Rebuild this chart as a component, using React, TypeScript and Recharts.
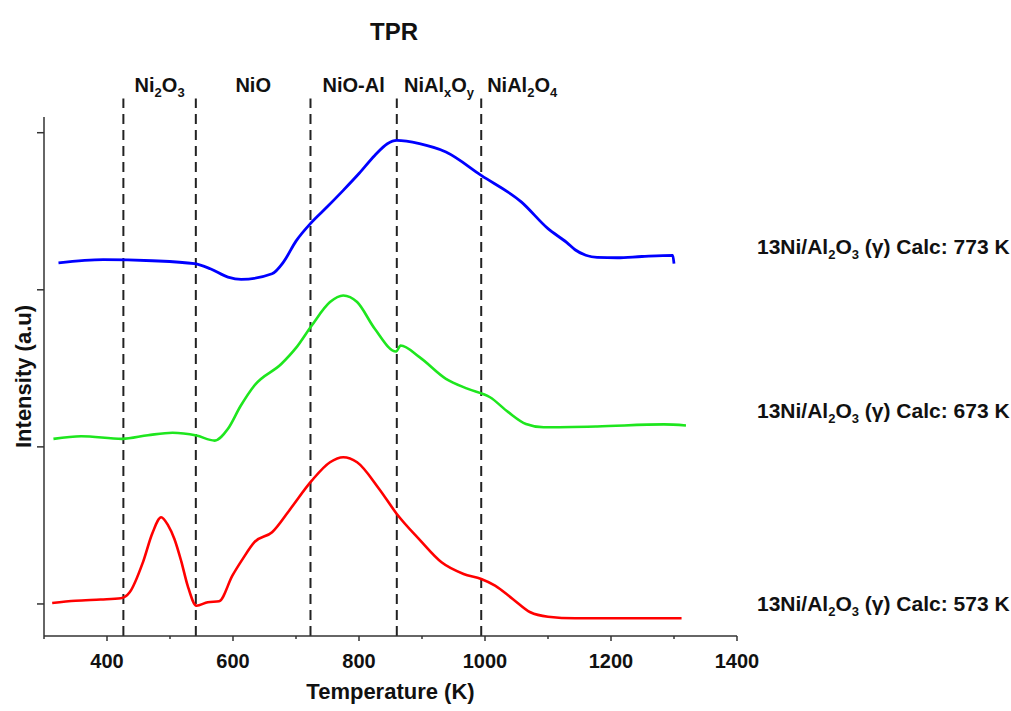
import { LineChart, Line, XAxis, YAxis, ReferenceLine, ReferenceArea } from "recharts";

// temperature (K) / intensity (a.u., stacked) per calcination sample
const redTemp = [313, 350, 390, 422, 436, 457, 472, 486, 497, 507, 518, 528, 542, 560, 578, 599, 616, 634, 662, 691, 725, 754, 775, 797, 832, 860, 895, 931, 966, 994, 1016, 1044, 1072, 1100, 1143, 1213, 1312];
const redIntensity = [0.006, 0.02, 0.028, 0.036, 0.074, 0.265, 0.45, 0.552, 0.5, 0.414, 0.27, 0.117, -0.011, 0.011, 0.017, 0.18, 0.29, 0.393, 0.457, 0.605, 0.785, 0.902, 0.934, 0.902, 0.732, 0.573, 0.414, 0.265, 0.191, 0.159, 0.117, 0.032, -0.053, -0.081, -0.091, -0.091, -0.091];

const greenTemp = [315, 359, 424, 465, 504, 542, 571, 592, 612, 634, 677, 700, 725, 754, 775, 797, 825, 859, 866, 896, 938, 973, 1008, 1037, 1065, 1093, 1178, 1284, 1319];
const greenIntensity = [1.051, 1.068, 1.051, 1.074, 1.09, 1.072, 1.04, 1.115, 1.26, 1.391, 1.529, 1.63, 1.773, 1.922, 1.964, 1.922, 1.752, 1.607, 1.645, 1.571, 1.433, 1.369, 1.316, 1.221, 1.146, 1.125, 1.13, 1.143, 1.136];

const blueTemp = [323, 394, 472, 539, 564, 592, 613, 662, 680, 700, 725, 750, 775, 800, 825, 845, 860, 896, 938, 994, 1058, 1100, 1130, 1143, 1160, 1178, 1210, 1249, 1298, 1300];
const blueIntensity = [2.172, 2.192, 2.185, 2.166, 2.134, 2.081, 2.066, 2.102, 2.176, 2.31, 2.431, 2.53, 2.633, 2.74, 2.855, 2.93, 2.951, 2.93, 2.877, 2.728, 2.558, 2.389, 2.3, 2.255, 2.22, 2.206, 2.204, 2.212, 2.219, 2.166];

const xTicks = [300, 400, 500, 600, 700, 800, 900, 1000, 1100, 1200, 1300, 1400];
const xLabelTicks = [400, 600, 800, 1000, 1200, 1400];
const yTicks = [0, 1, 2, 3];

const dividerTemps = [426, 541, 723, 860, 994];
const phaseBounds = [426, 541, 723, 860, 994, 1124];
const phaseNames = ["Ni_2O_3", "NiO", "NiO-Al", "NiAl_xO_y", "NiAl_2O_4"];
const seriesNames = [
  "13Ni/Al_2O_3 (γ) Calc: 773 K",
  "13Ni/Al_2O_3 (γ) Calc: 673 K",
  "13Ni/Al_2O_3 (γ) Calc: 573 K",
];

const Y_MIN = -0.204;
const Y_MAX = 3.1;
const DIVIDER_TOP = 3.217;
const FONT = "'Liberation Sans', Arial, sans-serif";

const toPoints = (t: number[], v: number[]) => t.map((temp, i) => ({ temp, v: v[i] }));
const redData = toPoints(redTemp, redIntensity);
const greenData = toPoints(greenTemp, greenIntensity);
const blueData = toPoints(blueTemp, blueIntensity);

// "Ni_2O_3" -> [["Ni", false], ["2", true], ["O", false], ["3", true]]
function splitSub(s: string): [string, boolean][] {
  const out: [string, boolean][] = [];
  let buf = "";
  for (let i = 0; i < s.length; i++) {
    if (s[i] === "_" && i + 1 < s.length) {
      if (buf) out.push([buf, false]);
      buf = "";
      out.push([s[i + 1], true]);
      i++;
    } else {
      buf += s[i];
    }
  }
  if (buf) out.push([buf, false]);
  return out;
}

function SvgSubText({ text, x, y, size, subSize }: any) {
  const parts = splitSub(text);
  let shifted = false;
  return (
    <text x={x} y={y} textAnchor="middle" fontFamily={FONT} fontWeight="bold" fontSize={size} fill="#111">
      {parts.map(([p, sub], i) => {
        let dy = 0;
        if (sub && !shifted) { dy = 5; shifted = true; }
        if (!sub && shifted) { dy = -5; shifted = false; }
        return (
          <tspan key={i} dy={dy} fontSize={sub ? subSize : size}>
            {p}
          </tspan>
        );
      })}
    </text>
  );
}

function HtmlSubText({ text }: { text: string }) {
  return (
    <>
      {splitSub(text).map(([p, sub], i) =>
        sub ? (
          <span key={i} style={{ fontSize: 13, position: "relative", top: 5 }}>{p}</span>
        ) : (
          <span key={i}>{p}</span>
        )
      )}
    </>
  );
}

function XTick({ x, y, payload }: any) {
  const major = xLabelTicks.includes(payload.value);
  return (
    <g>
      <line x1={x} x2={x} y1={y} y2={y + (major ? 5 : 3)} stroke="#333" strokeWidth={1.5} />
      {major && (
        <text x={x} y={y + 32} textAnchor="middle" fontFamily={FONT} fontWeight="bold" fontSize={20} fill="#111">
          {payload.value}
        </text>
      )}
    </g>
  );
}

function YTitle({ viewBox }: any) {
  const cx = 23;
  const cy = viewBox.y + viewBox.height / 2;
  return (
    <text
      x={cx}
      y={cy}
      transform={`rotate(-90, ${cx}, ${cy})`}
      textAnchor="middle"
      dominantBaseline="central"
      fontFamily={FONT}
      fontWeight="bold"
      fontSize={22}
      fill="#111"
    >
      Intensity (a.u)
    </text>
  );
}

const labelBaselines = [254, 418, 611];

export default function App() {
  return (
    <div style={{ position: "absolute", left: 0, top: 0, width: 1011, height: 711, background: "#fff", fontFamily: FONT }}>
      <LineChart width={1011} height={711} margin={{ top: 117, right: 274, bottom: 0, left: 0 }}>
        <XAxis
          xAxisId="t"
          type="number"
          dataKey="temp"
          domain={[300, 1400]}
          ticks={xTicks}
          allowDataOverflow
          height={75}
          tickSize={0}
          tickMargin={0}
          tickLine={false}
          tick={<XTick />}
          axisLine={{ stroke: "#333", strokeWidth: 1.5 }}
          label={{ value: "Temperature (K)", position: "insideBottom", offset: 12, fontFamily: FONT, fontWeight: "bold", fontSize: 22, fill: "#111" }}
        />
        <YAxis
          yAxisId="v"
          type="number"
          domain={[Y_MIN, Y_MAX]}
          ticks={yTicks}
          allowDataOverflow
          width={44}
          tickSize={7}
          tickFormatter={() => ""}
          tickLine={{ stroke: "#333", strokeWidth: 1.5 }}
          axisLine={{ stroke: "#333", strokeWidth: 1.5 }}
          label={(props: any) => <YTitle {...props} />}
        />
        {dividerTemps.map((t) => (
          <ReferenceLine
            key={t}
            xAxisId="t"
            yAxisId="v"
            segment={[{ x: t, y: Y_MIN }, { x: t, y: DIVIDER_TOP }]}
            ifOverflow="visible"
            stroke="#222"
            strokeWidth={2}
            strokeDasharray="10 6"
          />
        ))}
        {phaseNames.map((name, i) => (
          <ReferenceArea
            key={name}
            xAxisId="t"
            yAxisId="v"
            x1={phaseBounds[i]}
            x2={phaseBounds[i + 1]}
            y1={DIVIDER_TOP}
            y2={3.35}
            ifOverflow="visible"
            fill="none"
            stroke="none"
            label={(props: any) => (
              <SvgSubText text={name} x={props.viewBox.x + props.viewBox.width / 2} y={92} size={20} subSize={13} />
            )}
          />
        ))}
        <Line xAxisId="t" yAxisId="v" data={blueData} dataKey="v" type="monotone" stroke="#0000ff" strokeWidth={2.8} dot={false} isAnimationActive={false} />
        <Line xAxisId="t" yAxisId="v" data={greenData} dataKey="v" type="monotone" stroke="#1ee61e" strokeWidth={2.6} dot={false} isAnimationActive={false} />
        <Line xAxisId="t" yAxisId="v" data={redData} dataKey="v" type="monotone" stroke="#ff0000" strokeWidth={2.6} dot={false} isAnimationActive={false} />
      </LineChart>

      <div style={{ position: "absolute", left: 294, top: 20, width: 200, textAlign: "center", fontSize: 24, lineHeight: "24px", fontWeight: "bold", color: "#111" }}>
        TPR
      </div>
      {seriesNames.map((name, i) => (
        <div
          key={name}
          style={{ position: "absolute", left: 757, top: labelBaselines[i] - 18, fontSize: 21, lineHeight: "21px", fontWeight: "bold", color: "#111", whiteSpace: "nowrap" }}
        >
          <HtmlSubText text={name} />
        </div>
      ))}
    </div>
  );
}
